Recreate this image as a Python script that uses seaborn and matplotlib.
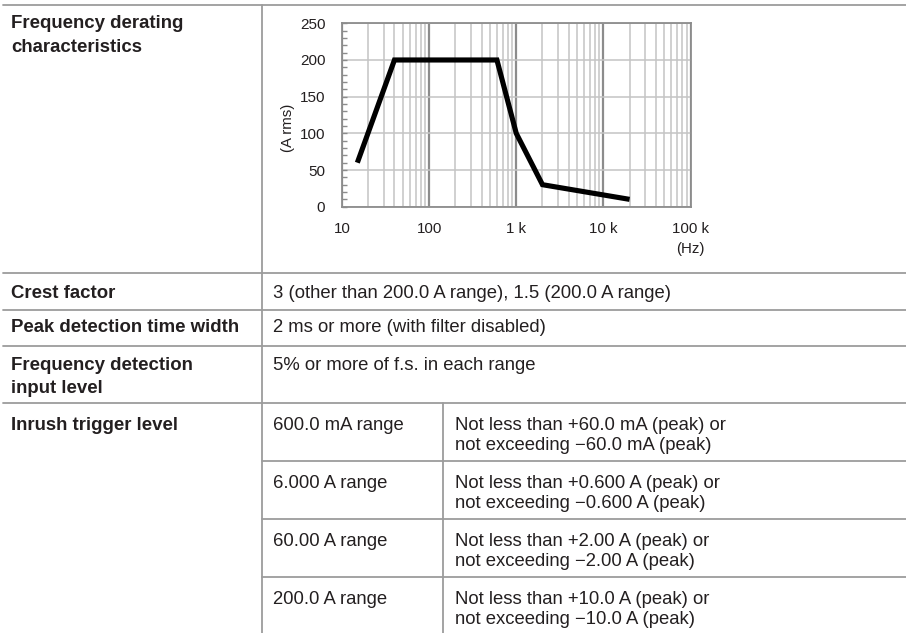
import matplotlib
matplotlib.use("Agg")
import matplotlib.pyplot as plt
from matplotlib.lines import Line2D
from matplotlib.ticker import FixedLocator, LogLocator, MultipleLocator, NullFormatter
import pandas as pd
import seaborn as sns

# derating curve
freq_hz = [15, 40, 600, 1000, 2000, 20000]
current_a = [60, 200, 200, 100, 30, 10]
x_ticks = [10, 100, 1000, 10000, 100000]
x_tick_labels = ["10", "100", "1 k", "10 k", "100 k"]
y_ticks = [0, 50, 100, 150, 200, 250]

# table text
curve_label = ["Frequency derating", "characteristics"]
simple_labels = ["Crest factor", "Peak detection time width", ["Frequency detection", "input level"]]
simple_values = [
    "3 (other than 200.0 A range), 1.5 (200.0 A range)",
    "2 ms or more (with filter disabled)",
    "5% or more of f.s. in each range",
]
inrush_label = "Inrush trigger level"
inrush_ranges = ["600.0 mA range", "6.000 A range", "60.00 A range", "200.0 A range"]
inrush_upper = [
    "Not less than +60.0 mA (peak) or",
    "Not less than +0.600 A (peak) or",
    "Not less than +2.00 A (peak) or",
    "Not less than +10.0 A (peak) or",
]
inrush_lower = [
    "not exceeding \u221260.0 mA (peak)",
    "not exceeding \u22120.600 A (peak)",
    "not exceeding \u22122.00 A (peak)",
    "not exceeding \u221210.0 A (peak)",
]

sns.set_style("white")
plt.rcParams["font.family"] = ["Liberation Sans", "DejaVu Sans"]

W, H = 906, 633
fig = plt.figure(figsize=(W / 100, H / 100), dpi=100)

# background axes in pixel coordinates for the table
bg = fig.add_axes([0, 0, 1, 1])
bg.set_xlim(0, W)
bg.set_ylim(H, 0)
bg.axis("off")

line_c = "#9c9c9c"
txt_c = "#231f20"
fs = 13.3
fs_b = 13.4

def hline(y, x0=3, x1=W):
    bg.add_line(Line2D([x0, x1], [y, y], color=line_c, lw=1.3))

def vline(x, y0, y1):
    bg.add_line(Line2D([x, x], [y0, y1], color=line_c, lw=1.3))

row_lines = [5, 273, 310, 346, 403]
for y in row_lines:
    hline(y)
for y in [461, 519, 577]:
    hline(y, x0=262)
vline(262, 5, H)
vline(443, 403, H)

# first row label
bg.text(11, 28, curve_label[0], fontsize=fs_b, fontweight="bold", color=txt_c, va="baseline")
bg.text(11, 52, curve_label[1], fontsize=fs_b, fontweight="bold", color=txt_c, va="baseline")

# simple rows
base_y = [298, 332, 370]
for lab, val, y in zip(simple_labels, simple_values, base_y):
    labs = lab if isinstance(lab, list) else [lab]
    for k, s in enumerate(labs):
        bg.text(11, y + 23 * k, s, fontsize=fs_b, fontweight="bold", color=txt_c, va="baseline")
    bg.text(273, y, val, fontsize=fs, color=txt_c, va="baseline")

# inrush rows
bg.text(11, 430, inrush_label, fontsize=fs_b, fontweight="bold", color=txt_c, va="baseline")
for i, (r, up, lo) in enumerate(zip(inrush_ranges, inrush_upper, inrush_lower)):
    y = 430 + 58 * i
    bg.text(273, y, r, fontsize=fs, color=txt_c, va="baseline")
    bg.text(455, y, up, fontsize=fs, color=txt_c, va="baseline")
    bg.text(455, y + 20, lo, fontsize=fs, color=txt_c, va="baseline")

# chart
left, right, top, bottom = 342, 690.5, 23.3, 206.7
ax = fig.add_axes([left / W, 1 - bottom / H, (right - left) / W, (bottom - top) / H])

df = pd.DataFrame({"freq": freq_hz, "current": current_a})
sns.lineplot(data=df, x="freq", y="current", ax=ax, color="black", lw=3.7,
             solid_joinstyle="miter", solid_capstyle="butt", zorder=5)

ax.set_xscale("log")
ax.set_xlim(10, 100000)
ax.set_ylim(0, 250)
ax.set_axisbelow(True)

ax.xaxis.set_major_locator(FixedLocator(x_ticks))
ax.set_xticks(x_ticks)
ax.set_xticklabels(x_tick_labels)
ax.xaxis.set_minor_locator(LogLocator(base=10, subs=range(2, 10)))
ax.xaxis.set_minor_formatter(NullFormatter())
ax.set_yticks(y_ticks)
ax.yaxis.set_minor_locator(MultipleLocator(10))

ax.grid(which="minor", axis="x", color="#c4c4c4", lw=1.1)
ax.grid(which="major", axis="x", color="#8c8c8c", lw=1.6)
ax.grid(which="major", axis="y", color="#c4c4c4", lw=1.1)

ax.tick_params(axis="x", which="both", length=0, pad=11, labelsize=10.8, labelcolor=txt_c)
ax.tick_params(axis="y", which="both", direction="in", length=3.5, width=1, color="#8c8c8c",
               pad=12, labelsize=11, labelcolor=txt_c, left=True)

for sp in ax.spines.values():
    sp.set_color("#8c8c8c")
    sp.set_linewidth(1.3)
    sp.set_visible(True)

ax.set_xlabel("")
ax.set_ylabel("")
bg.text(288, 128, "(A rms)", rotation=90, fontsize=10.8, color=txt_c, ha="center", va="center")
bg.text(690, 249, "(Hz)", fontsize=10.8, color=txt_c, ha="center", va="center")

fig.savefig("out.png", dpi=100, facecolor="white")
